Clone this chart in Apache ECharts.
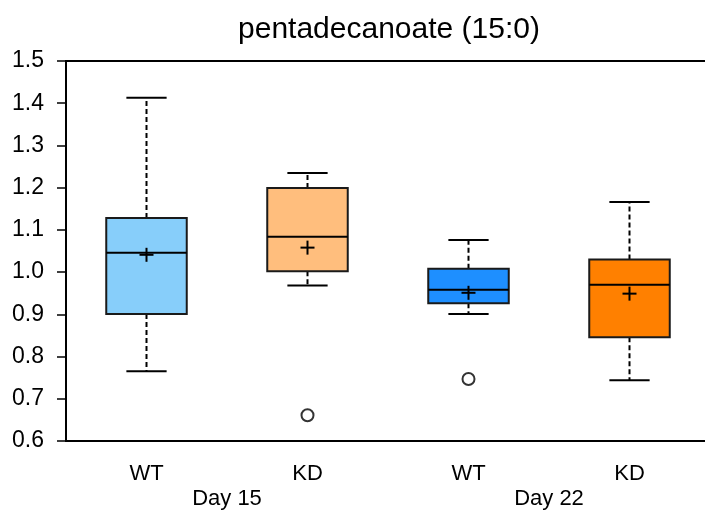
<!DOCTYPE html>
<html>
<head>
<meta charset="utf-8">
<script src="https://cdn.jsdelivr.net/npm/echarts@6/dist/echarts.min.js"></script>
<style>
  html, body { margin: 0; padding: 0; background: #fff; }
  #chart { width: 705px; height: 519px; }
</style>
</head>
<body>
<div id="chart"></div>
<script>
var groups = ['WT', 'KD', 'WT', 'KD'];
var days = ['Day 15', 'Day 22'];
var colors = ['#87CEFA', '#FFBE7D', '#1E8FFF', '#FF8000'];
// low whisker, q1, median, q3, high whisker
var lows = [0.765, 0.968, 0.901, 0.744];
var q1s = [0.901, 1.002, 0.926, 0.846];
var medians = [1.046, 1.084, 0.958, 0.970];
var q3s = [1.128, 1.199, 1.008, 1.030];
var highs = [1.413, 1.235, 1.076, 1.166];
var means = [1.041, 1.058, 0.951, 0.949];
var outliers = [[1, 0.661], [2, 0.747]];

var boxData = groups.map(function (g, i) {
  return [i, lows[i], q1s[i], medians[i], q3s[i], highs[i], means[i]];
});

var myChart = echarts.init(document.getElementById('chart'));

function renderBox(params, api) {
  var i = api.value(0);
  var band = api.size([1, 0])[0];
  var half = band * 0.25;
  var cap = band * 0.125;
  var pLow = api.coord([i, api.value(1)]);
  var pQ1 = api.coord([i, api.value(2)]);
  var pMed = api.coord([i, api.value(3)]);
  var pQ3 = api.coord([i, api.value(4)]);
  var pHigh = api.coord([i, api.value(5)]);
  var pMean = api.coord([i, api.value(6)]);
  var x = pMed[0];
  var ink = { stroke: '#000', lineWidth: 2 };
  var dash = { stroke: '#000', lineWidth: 2, lineDash: [5, 3] };
  return {
    type: 'group',
    children: [
      { type: 'line', shape: { x1: x, y1: pQ3[1], x2: x, y2: pHigh[1] }, style: dash },
      { type: 'line', shape: { x1: x, y1: pQ1[1], x2: x, y2: pLow[1] }, style: dash },
      { type: 'line', shape: { x1: x - cap, y1: pHigh[1], x2: x + cap, y2: pHigh[1] }, style: ink },
      { type: 'line', shape: { x1: x - cap, y1: pLow[1], x2: x + cap, y2: pLow[1] }, style: ink },
      { type: 'rect', shape: { x: x - half, y: pQ3[1], width: half * 2, height: pQ1[1] - pQ3[1] },
        style: { fill: colors[i], stroke: '#1a1a1a', lineWidth: 2 } },
      { type: 'line', shape: { x1: x - half, y1: pMed[1], x2: x + half, y2: pMed[1] }, style: ink },
      { type: 'line', shape: { x1: x - 7, y1: pMean[1], x2: x + 7, y2: pMean[1] }, style: ink },
      { type: 'line', shape: { x1: x, y1: pMean[1] - 7, x2: x, y2: pMean[1] + 7 }, style: ink }
    ]
  };
}

var option = {
  animation: false,
  textStyle: { fontFamily: 'Liberation Sans, Arial, sans-serif' },
  title: {
    text: 'pentadecanoate (15:0)',
    left: 384,
    textAlign: 'center',
    top: 10,
    textStyle: { fontSize: 30, fontWeight: 'normal', color: '#000', fontFamily: 'Liberation Sans' }
  },
  grid: {
    left: 66, right: -5, top: 61, bottom: 78,
    outerBoundsMode: 'none',
    containLabel: false,
    show: true, borderColor: '#000', borderWidth: 2
  },
  xAxis: [
    {
      type: 'category',
      data: groups,
      axisLine: { lineStyle: { color: '#000', width: 2 } },
      axisTick: { alignWithLabel: true, length: 9, lineStyle: { color: '#000', width: 1.5 } },
      axisLabel: { color: '#000', fontSize: 22, margin: 22 }
    },
    {
      type: 'category',
      position: 'bottom',
      data: days,
      axisLine: { show: false },
      axisTick: { show: false },
      axisLabel: { color: '#000', fontSize: 22, margin: 47 }
    }
  ],
  yAxis: {
    type: 'value',
    min: 0.6,
    max: 1.5,
    interval: 0.1,
    splitLine: { show: false },
    axisLine: { show: true, lineStyle: { color: '#000', width: 2 } },
    axisTick: { show: true, length: 9, lineStyle: { color: '#000', width: 1.5 } },
    axisLabel: {
      color: '#000', fontSize: 23, margin: 22,
      formatter: function (v) { return v.toFixed(1); }
    }
  },
  series: [
    {
      type: 'custom',
      renderItem: renderBox,
      encode: { x: 0, y: [1, 2, 3, 4, 5, 6] },
      data: boxData,
      z: 3
    },
    {
      type: 'scatter',
      data: outliers,
      symbol: 'emptyCircle',
      symbolSize: 12,
      itemStyle: { color: '#000', borderColor: '#000', borderWidth: 1.8 },
      z: 4
    }
  ]
};
myChart.setOption(option);
</script>
</body>
</html>
